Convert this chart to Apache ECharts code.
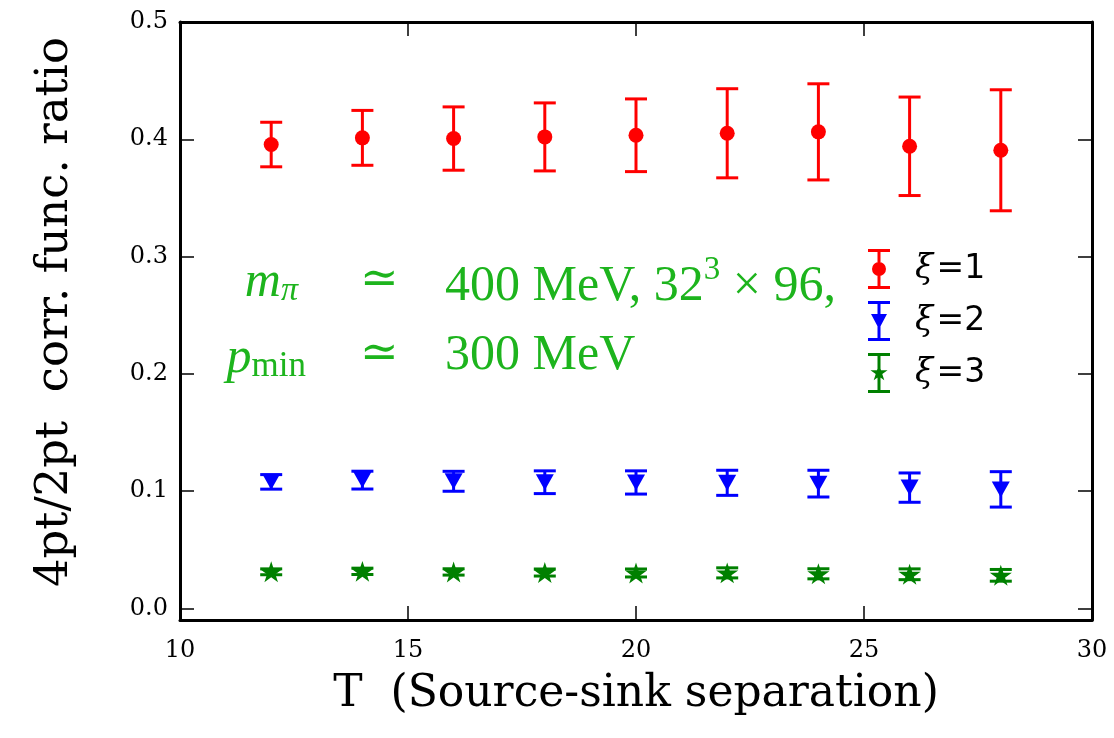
<!DOCTYPE html>
<html>
<head>
<meta charset="utf-8">
<script src="https://cdn.jsdelivr.net/npm/echarts@6/dist/echarts.min.js"></script>
<style>
  html, body { margin: 0; padding: 0; background: #fff; }
  #chart { width: 1114px; height: 738px; }
</style>
</head>
<body>
<div id="chart"></div>
<script>
// source-sink separations
var tValues = [12, 14, 16, 18, 20, 22, 24, 26, 28]
// xi = 1
var xi1Values = [0.3955, 0.4012, 0.4006, 0.402, 0.4034, 0.4051, 0.4063, 0.394, 0.3906]
var xi1Errors = [0.019, 0.0234, 0.027, 0.029, 0.031, 0.038, 0.041, 0.042, 0.0516]
// xi = 2
var xi2Values = [0.1078, 0.1093, 0.1083, 0.1075, 0.1073, 0.107, 0.1063, 0.1029, 0.1014]
var xi2Errors = [0.0062, 0.0076, 0.0085, 0.0097, 0.0099, 0.0107, 0.0114, 0.0125, 0.0151]
// xi = 3
var xi3Values = [0.0311, 0.0315, 0.031, 0.0305, 0.0301, 0.0302, 0.0294, 0.029, 0.0281]
var xi3Errors = [0.0025, 0.0027, 0.0027, 0.003, 0.0034, 0.0043, 0.0043, 0.0046, 0.005]

var xTicks = [10, 15, 20, 25, 30]
var yTicks = [0.0, 0.1, 0.2, 0.3, 0.4, 0.5]
var seriesNames = ['ξ=1', 'ξ=2', 'ξ=3']
var seriesColors = ['#ff0000', '#0000ff', '#008000']

var starPath = 'path://M100,0L122.45,69.1L195.11,69.1L136.33,111.8L158.78,180.9L100,138.2L41.22,180.9L63.67,111.8L4.89,69.1L77.55,69.1Z'
var barPath = 'M0,0H22V3H0Z M0,37H22V40H0Z M9.5,3H12.5V37H9.5Z '
var legendIcons = [
  'path://' + barPath + 'M4,20A7,7 0 1 1 18,20A7,7 0 1 1 4,20Z',
  'path://' + barPath + 'M3,13H19L11,28Z',
  'path://' + barPath + 'M11,11L13.02,17.22L19.56,17.22L14.27,21.06L16.29,27.28L11,23.44L5.71,27.28L7.73,21.06L2.44,17.22L8.98,17.22Z'
]

var serif = 'DejaVu Serif'
var green = '#1db41d'

function pairs (vals) {
  return tValues.map(function (t, i) { return [t, vals[i]] })
}
function errPairs (vals, errs) {
  return tValues.map(function (t, i) { return [t, vals[i] - errs[i], vals[i] + errs[i]] })
}

function errorBars (name, color, vals, errs) {
  return {
    name: name + ' err',
    type: 'custom',
    data: errPairs(vals, errs),
    z: 2,
    renderItem: function (params, api) {
      var lo = api.coord([api.value(0), api.value(1)])
      var hi = api.coord([api.value(0), api.value(2)])
      var half = 11
      var st = { stroke: color, lineWidth: 3 }
      return {
        type: 'group',
        children: [
          { type: 'line', shape: { x1: lo[0], y1: lo[1], x2: hi[0], y2: hi[1] }, style: st },
          { type: 'line', shape: { x1: lo[0] - half, y1: lo[1], x2: lo[0] + half, y2: lo[1] }, style: st },
          { type: 'line', shape: { x1: hi[0] - half, y1: hi[1], x2: hi[0] + half, y2: hi[1] }, style: st }
        ]
      }
    }
  }
}

function frameAxis (extra) {
  var base = {
    type: 'value',
    axisLine: { show: true, onZero: false, lineStyle: { color: '#000', width: 3 } },
    axisTick: { show: true, inside: true, length: 14, lineStyle: { color: '#000', width: 1.5 } },
    splitLine: { show: false }
  }
  return Object.assign(base, extra)
}

var chart = echarts.init(document.getElementById('chart'))

var mathText = { fontFamily: 'Liberation Serif', fill: green }

var option = {
  backgroundColor: '#fff',
  animation: false,
  grid: { left: 180, right: 22, top: 22, bottom: 118 },
  xAxis: [
    frameAxis({
      position: 'bottom', min: 10, max: 30, interval: 5,
      name: 'T  (Source-sink separation)',
      nameLocation: 'middle', nameGap: 53,
      nameTextStyle: { fontFamily: serif, fontSize: 44, color: '#000' },
      axisLabel: { margin: 19, fontFamily: serif, fontSize: 24, color: '#000' }
    }),
    frameAxis({ position: 'top', min: 10, max: 30, interval: 5, axisLabel: { show: false } })
  ],
  yAxis: [
    frameAxis({
      position: 'left', min: -0.01, max: 0.5,
      name: '4pt/2pt  corr. func. ratio',
      nameLocation: 'middle', nameGap: 102,
      nameTextStyle: { fontFamily: serif, fontSize: 45, color: '#000', padding: [0, 0, 0, 18] },
      axisTick: { show: true, inside: true, length: 14, customValues: yTicks, lineStyle: { color: '#000', width: 1.5 } },
      axisLabel: {
        margin: 12, fontFamily: serif, fontSize: 24, color: '#000', customValues: yTicks,
        formatter: function (v) { return v.toFixed(1) }
      }
    }),
    frameAxis({
      position: 'right', min: -0.01, max: 0.5,
      axisTick: { show: true, inside: true, length: 14, customValues: yTicks, lineStyle: { color: '#000', width: 1.5 } },
      axisLabel: { show: false, customValues: yTicks }
    })
  ],
  legend: {
    orient: 'vertical',
    left: 863,
    top: 244,
    itemWidth: 22,
    itemHeight: 40,
    itemGap: 12,
    selectedMode: false,
    itemStyle: { opacity: 1 },
    data: seriesNames.map(function (n, i) { return { name: n, icon: legendIcons[i] } }),
    formatter: function (name) { return '{xi|ξ} {eq|' + name.slice(1) + '}' },
    textStyle: {
      padding: [0, 0, 0, 20],
      rich: {
        xi: { fontFamily: serif, fontStyle: 'italic', fontSize: 33, color: '#000' },
        eq: { fontFamily: 'DejaVu Sans', fontSize: 33, color: '#000' }
      }
    }
  },
  graphic: [
    { type: 'text', right: 1114 - 298, top: 258, style: {
      text: '{i|m}{s|π}', rich: {
        i: Object.assign({ fontStyle: 'italic', fontSize: 50, lineHeight: 56, verticalAlign: 'bottom' }, mathText),
        s: Object.assign({ fontStyle: 'italic', fontSize: 34, lineHeight: 46, verticalAlign: 'bottom' }, mathText)
      } } },
    { type: 'text', right: 1114 - 306, top: 334, style: {
      text: '{i|p}{s|min}', rich: {
        i: Object.assign({ fontStyle: 'italic', fontSize: 50, lineHeight: 56, verticalAlign: 'bottom' }, mathText),
        s: Object.assign({ fontSize: 35, lineHeight: 46, verticalAlign: 'bottom' }, mathText)
      } } },
    { type: 'text', left: 360, top: 258, style: { text: '≃', font: '46px "DejaVu Serif"', fill: green } },
    { type: 'text', left: 360, top: 332, style: { text: '≃', font: '46px "DejaVu Serif"', fill: green } },
    { type: 'text', left: 445, top: 254, style: {
      text: '{n|400 MeV, 32}{p|3}{n| × 96,}', rich: {
        n: Object.assign({ fontSize: 50, lineHeight: 58, verticalAlign: 'bottom' }, mathText),
        p: Object.assign({ fontSize: 33, lineHeight: 58, verticalAlign: 'top' }, mathText)
      } } },
    { type: 'text', left: 445, top: 331, style: Object.assign({ text: '300 MeV', font: '50px "Liberation Serif"' }, { fill: green }) }
  ],
  series: [
    errorBars(seriesNames[0], seriesColors[0], xi1Values, xi1Errors),
    errorBars(seriesNames[1], seriesColors[1], xi2Values, xi2Errors),
    errorBars(seriesNames[2], seriesColors[2], xi3Values, xi3Errors),
    { name: seriesNames[0], type: 'scatter', data: pairs(xi1Values), symbol: 'circle', symbolSize: 15,
      itemStyle: { color: seriesColors[0], opacity: 1 }, z: 3 },
    { name: seriesNames[1], type: 'scatter', data: pairs(xi2Values), symbol: 'triangle', symbolRotate: 180, symbolSize: [18, 16],
      itemStyle: { color: seriesColors[1], opacity: 1 }, z: 3 },
    { name: seriesNames[2], type: 'scatter', data: pairs(xi3Values), symbol: starPath, symbolSize: 22, symbolKeepAspect: true,
      itemStyle: { color: seriesColors[2], opacity: 1 }, z: 3 }
  ]
}

chart.setOption(option)
</script>
</body>
</html>
